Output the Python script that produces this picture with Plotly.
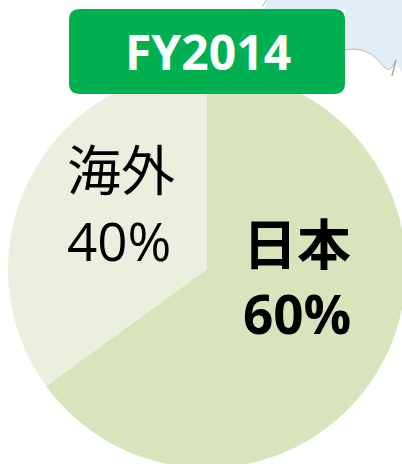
import plotly.graph_objects as go

categories = ["日本", "海外"]
sweep_values = [65, 35]  # slice sizes as drawn in the picture
shown_percent = ["60%", "40%"]  # as printed on the picture
title_text = "FY2014"
colors = ["#D8E4BC", "#EBF0DE"]

W, H = 408, 472
cx, cy, r = 207, 269, 199

def px(x): return x / W
def py(y): return 1 - y / H

fig = go.Figure(go.Pie(
    labels=categories, values=sweep_values, sort=False, direction="clockwise", rotation=0,
    marker=dict(colors=colors, line=dict(width=0)), textinfo="none", hoverinfo="label",
    domain=dict(x=[px(cx - r), px(cx + r)], y=[py(cy + r), py(cy - r)]), showlegend=False,
))

def rrect(x0, y0, x1, y1, rad):
    return (f"M{px(x0+rad)},{py(y0)} L{px(x1-rad)},{py(y0)} Q{px(x1)},{py(y0)} {px(x1)},{py(y0+rad)} "
            f"L{px(x1)},{py(y1-rad)} Q{px(x1)},{py(y1)} {px(x1-rad)},{py(y1)} L{px(x0+rad)},{py(y1)} "
            f"Q{px(x0)},{py(y1)} {px(x0)},{py(y1-rad)} L{px(x0)},{py(y0+rad)} Q{px(x0)},{py(y0)} {px(x0+rad)},{py(y0)} Z")

coast = [(345, 50), (352, 49), (362, 50), (371, 54), (378, 60), (384, 67), (389, 70), (393, 66), (396, 60)]
coast2 = [(396, 60), (394, 68), (392, 76)]
sea = [(266, 0), (402, 0), (402, 72), (398, 66)] + coast[::-1] + [(345, 9), (265, 9)]
to_path = lambda pts: "M" + " L".join(f"{px(x)},{py(y)}" for x, y in pts)

fig.update_layout(
    width=W, height=H, margin=dict(l=0, r=0, t=0, b=0),
    paper_bgcolor="white", plot_bgcolor="white",
    shapes=[
        dict(type="path", xref="paper", yref="paper", path=to_path(sea) + " Z",
             fillcolor="#E3EDF6", line=dict(width=0), layer="below"),
        dict(type="path", xref="paper", yref="paper", path=to_path(coast),
             line=dict(width=1, color="#B4B8BC"), layer="below"),
        dict(type="path", xref="paper", yref="paper", path=to_path(coast2),
             line=dict(width=1.5, color="#A8A8A8"), layer="below"),
        dict(type="path", xref="paper", yref="paper", path=to_path([(266, 0), (264, 4), (262, 7)]),
             line=dict(width=1, color="#BBBBBB"), layer="below"),
        dict(type="path", xref="paper", yref="paper", path=rrect(69, 9, 345, 94, 11),
             fillcolor="#00B050", line=dict(width=0), layer="above"),
    ],
    annotations=[
        dict(x=px(207.5), y=py(51), text=f"<b>{title_text}</b>", font=dict(family="Open Sans", size=48, color="white")),
        dict(x=px(121), y=py(167), text=categories[1], font=dict(family="Noto Sans CJK JP", size=54, color="black")),
        dict(x=px(119), y=py(240), text=shown_percent[1], font=dict(family="Open Sans", size=53, color="black")),
        dict(x=px(297), y=py(242), text=f"<b>{categories[0]}</b>", font=dict(family="Noto Sans CJK JP", size=54, color="black")),
        dict(x=px(297), y=py(313), text=f"<b>{shown_percent[0]}</b>", font=dict(family="Open Sans", size=53, color="black")),
    ],
)
for a in fig.layout.annotations:
    a.update(xref="paper", yref="paper", xanchor="center", yanchor="middle", showarrow=False)

fig.write_html("out.html", config=dict(displayModeBar=False),
               post_script="document.body.style.margin='0';document.body.style.overflow='hidden';document.documentElement.style.overflow='hidden';")
